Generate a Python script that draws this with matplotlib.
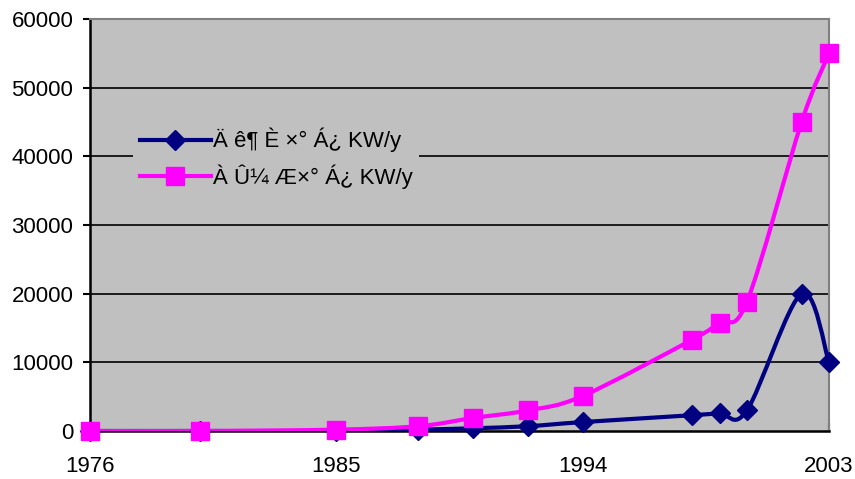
import matplotlib.pyplot as plt
import numpy as np
from matplotlib.path import Path
from matplotlib.patches import PathPatch
from matplotlib.lines import Line2D

plt.rcParams["font.family"] = ["Liberation Sans", "DejaVu Sans"]

years = [1976, 1980, 1985, 1988, 1990, 1992, 1994, 1998, 1999, 2000, 2002, 2003]
annual = [0, 0, 0, 200, 400, 700, 1300, 2300, 2600, 3000, 20000, 10000]
cumulative = [0, 0, 200, 700, 1900, 3000, 5100, 13300, 15800, 18800, 45000, 55000]

label_annual = "Ä ê¶ È ×° Á¿ KW/y"
label_cumul = "À Û¼ Æ×° Á¿ KW/y"
x_ticks = [1976, 1985, 1994, 2003]
y_ticks = [0, 10000, 20000, 30000, 40000, 50000, 60000]


def smooth_path(xs, ys):
    # Excel-style smoothed line: cubic Bezier with 1/6 tangents
    pts = np.column_stack([xs, ys]).astype(float)
    n = len(pts)
    verts = [pts[0]]
    codes = [Path.MOVETO]
    for i in range(n - 1):
        p0 = pts[i - 1] if i > 0 else pts[i]
        p1 = pts[i]
        p2 = pts[i + 1]
        p3 = pts[i + 2] if i + 2 < n else pts[i + 1]
        c1 = p1 + (p2 - p0) / 6
        c2 = p2 - (p3 - p1) / 6
        verts += [c1, c2, p2]
        codes += [Path.CURVE4] * 3
    return Path(verts, codes)


fig = plt.figure(figsize=(8.55, 4.79), dpi=100)
ax = fig.add_axes([0.1053, 0.1002, 0.8643, 0.8601])
ax.set_facecolor("#C0C0C0")

for v in y_ticks[1:-1]:
    ax.axhline(v, color="black", lw=1.2, zorder=1)

series = [
    (annual, "#000080", "D", 10.5, label_annual),
    (cumulative, "#FF00FF", "s", 12.5, label_cumul),
]
handles = []
for vals, color, marker, ms, label in series:
    patch = PathPatch(smooth_path(years, vals), fill=False, edgecolor=color,
                      lw=3, zorder=3)
    ax.add_patch(patch)
    ax.plot(years, vals, linestyle="none", marker=marker, markersize=ms,
            color=color, zorder=4, clip_on=False)
    handles.append(Line2D([], [], color=color, lw=3, marker=marker,
                          markersize=ms))

ax.set_xlim(1976, 2003)
ax.set_ylim(0, 60000)
ax.set_xticks(x_ticks)
ax.set_yticks(y_ticks)
ax.tick_params(axis="y", direction="out", length=5, width=1.5, pad=7,
               labelsize=16)
ax.tick_params(axis="x", direction="in", length=6, width=1.5, pad=18,
               labelsize=16)

for side in ["left", "bottom"]:
    ax.spines[side].set_color("black")
    ax.spines[side].set_linewidth(1.8)
for side in ["top", "right"]:
    ax.spines[side].set_color("#808080")
    ax.spines[side].set_linewidth(1.5)

leg = ax.legend(handles, [label_annual, label_cumul], loc="upper left",
                bbox_to_anchor=(0.058, 0.752), fontsize=16,
                handlelength=3.2, handletextpad=0.1, labelspacing=0.55,
                borderpad=0.3, borderaxespad=0, frameon=True, fancybox=False)
leg.get_frame().set_facecolor("#C0C0C0")
leg.get_frame().set_edgecolor("none")
leg.get_frame().set_alpha(1)

fig.savefig("out.png", dpi=100)
